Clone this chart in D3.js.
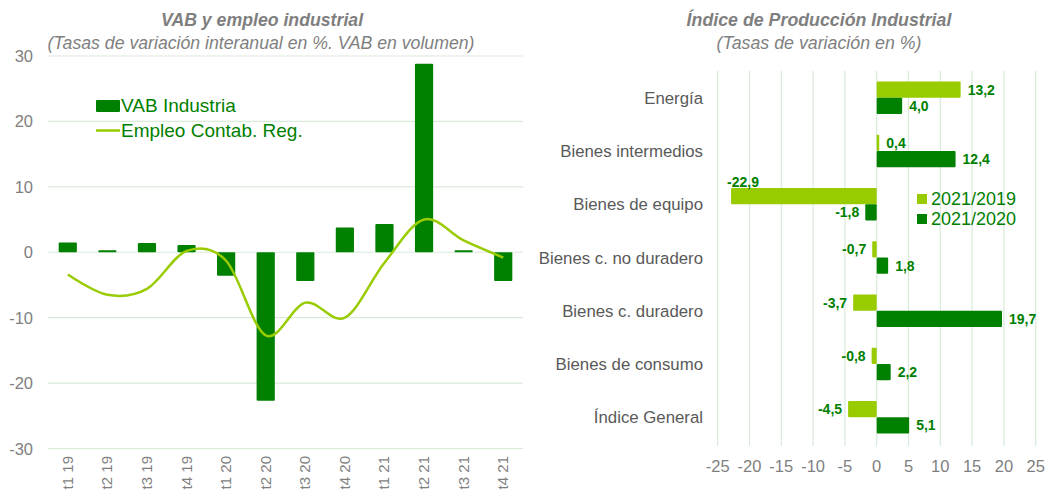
<!DOCTYPE html>
<html>
<head>
<meta charset="utf-8">
<script src="https://cdn.jsdelivr.net/npm/d3@7"></script>
<style>
  body { margin: 0; background: #fff; }
  svg { font-family: "Liberation Sans", Arial, sans-serif; display: block; }
</style>
</head>
<body>
<svg id="chart" width="1046" height="490"></svg>
<script>
// Left chart data
const quarters = ['t1 19', 't2 19', 't3 19', 't4 19', 't1 20', 't2 20', 't3 20', 't4 20', 't1 21', 't2 21', 't3 21', 't4 21']
const vabIndustria = [1.5, 0.3, 1.4, 1.1, -3.6, -22.7, -4.4, 3.8, 4.3, 28.8, 0.3, -4.4]
const empleo = [-3.4, -6.5, -5.6, 0.2, -1.3, -12.7, -7.7, -10.0, -1.6, 5.0, 1.8, -0.8]
const leftTicks = [-30, -20, -10, 0, 10, 20, 30]

// Right chart data
const sectors = ['Energía', 'Bienes intermedios', 'Bienes de equipo', 'Bienes c. no duradero', 'Bienes c. duradero', 'Bienes de consumo', 'Índice General']
const ipi2019 = [13.2, 0.4, -22.9, -0.7, -3.7, -0.8, -4.5]
const ipi2020 = [4.0, 12.4, -1.8, 1.8, 19.7, 2.2, 5.1]
const rightTicks = [-25, -20, -15, -10, -5, 0, 5, 10, 15, 20, 25]

const darkGreen = '#008000'
const lightGreen = '#99cc00'
const gridColor = '#d9ead9'
const grayText = '#7f7f7f'
const fmt = v => v.toFixed(1).replace('.', ',')

const svg = d3.select('#chart')

// ---------- Left chart ----------
const left = svg.append('g')

left.append('text')
  .attr('x', 262).attr('y', 26)
  .attr('text-anchor', 'middle')
  .attr('font-size', 17.7).attr('font-weight', 'bold').attr('font-style', 'italic')
  .attr('fill', grayText)
  .text('VAB y empleo industrial')
left.append('text')
  .attr('x', 261).attr('y', 49)
  .attr('text-anchor', 'middle')
  .attr('font-size', 17.7).attr('font-style', 'italic')
  .attr('fill', grayText)
  .text('(Tasas de variación interanual en %. VAB en volumen)')

const x = d3.scaleBand().domain(quarters).range([48, 523])
const y = d3.scaleLinear().domain([-30, 30]).range([448.5, 56])

left.append('g')
  .selectAll('line')
  .data(leftTicks)
  .join('line')
  .attr('x1', 48).attr('x2', 523)
  .attr('y1', d => y(d)).attr('y2', d => y(d))
  .attr('stroke', gridColor).attr('stroke-width', 1.2)

left.append('g')
  .selectAll('text')
  .data(leftTicks)
  .join('text')
  .attr('x', 33).attr('y', d => y(d) + 6)
  .attr('text-anchor', 'end')
  .attr('font-size', 16.5)
  .attr('fill', grayText)
  .text(d => d)

const barW = x.step() * 0.46
left.append('g')
  .selectAll('rect')
  .data(quarters)
  .join('rect')
  .attr('x', d => x(d) + x.step() / 2 - barW / 2)
  .attr('width', barW)
  .attr('y', (d, i) => y(Math.max(0, vabIndustria[i])))
  .attr('height', (d, i) => Math.abs(y(vabIndustria[i]) - y(0)))
  .attr('rx', 1)
  .attr('fill', darkGreen)

const line = d3.line()
  .x((d, i) => x(quarters[i]) + x.step() / 2)
  .y(d => y(d))
  .curve(d3.curveCatmullRom.alpha(0))

left.append('path')
  .datum(empleo)
  .attr('d', line)
  .attr('fill', 'none')
  .attr('stroke', lightGreen)
  .attr('stroke-width', 2.5)

left.append('g')
  .selectAll('text')
  .data(quarters)
  .join('text')
  .attr('transform', d => `translate(${x(d) + x.step() / 2 + 5},456) rotate(-90)`)
  .attr('text-anchor', 'end')
  .attr('font-size', 15)
  .attr('fill', grayText)
  .text(d => d)

// legend left
left.append('rect')
  .attr('x', 96).attr('y', 100).attr('width', 24).attr('height', 12)
  .attr('rx', 1).attr('fill', darkGreen)
left.append('text')
  .attr('x', 121).attr('y', 112)
  .attr('font-size', 19).attr('fill', darkGreen)
  .text('VAB Industria')
left.append('line')
  .attr('x1', 96).attr('x2', 120).attr('y1', 130.5).attr('y2', 130.5)
  .attr('stroke', lightGreen).attr('stroke-width', 2.5)
left.append('text')
  .attr('x', 121).attr('y', 137)
  .attr('font-size', 19).attr('fill', darkGreen)
  .text('Empleo Contab. Reg.')

// ---------- Right chart ----------
const right = svg.append('g')

right.append('text')
  .attr('x', 819).attr('y', 26)
  .attr('text-anchor', 'middle')
  .attr('font-size', 17.8).attr('font-weight', 'bold').attr('font-style', 'italic')
  .attr('fill', grayText)
  .text('Índice de Producción Industrial')
right.append('text')
  .attr('x', 819).attr('y', 49)
  .attr('text-anchor', 'middle')
  .attr('font-size', 17.8).attr('font-style', 'italic')
  .attr('fill', grayText)
  .text('(Tasas de variación en %)')

const xr = d3.scaleLinear().domain([-25, 25]).range([717.7, 1035.7])
const yr = d3.scaleBand().domain(sectors).range([71, 444])
const groupH = yr.step() * 0.61
const bh = groupH / 2

right.append('g')
  .selectAll('line')
  .data(rightTicks)
  .join('line')
  .attr('x1', d => xr(d)).attr('x2', d => xr(d))
  .attr('y1', 71).attr('y2', 446)
  .attr('stroke', gridColor).attr('stroke-width', 1.2)

right.append('g')
  .selectAll('text')
  .data(rightTicks)
  .join('text')
  .attr('x', d => xr(d)).attr('y', 472)
  .attr('text-anchor', 'middle')
  .attr('font-size', 16.5)
  .attr('fill', grayText)
  .text(d => d)

right.append('g')
  .selectAll('text')
  .data(sectors)
  .join('text')
  .attr('x', 703).attr('y', d => yr(d) + yr.step() / 2 + 6)
  .attr('text-anchor', 'end')
  .attr('font-size', 16.8)
  .attr('fill', '#595959')
  .text(d => d)

const series = [
  { values: ipi2019, color: lightGreen, offset: 0 },
  { values: ipi2020, color: darkGreen, offset: 1 }
]

series.forEach(s => {
  const g = right.append('g')
  const top = (d, i) => yr(sectors[i]) + yr.step() / 2 - groupH / 2 + s.offset * bh
  const clipped = d => xr(d) - 40 < xr.range()[0]
  g.selectAll('rect')
    .data(s.values)
    .join('rect')
    .attr('x', d => xr(Math.min(0, d)))
    .attr('width', d => Math.abs(xr(d) - xr(0)))
    .attr('y', top)
    .attr('height', bh)
    .attr('rx', 1)
    .attr('fill', s.color)

  g.selectAll('text')
    .data(s.values)
    .join('text')
    .attr('x', d => {
      if (clipped(d)) return xr(d) - 4
      return d < 0 ? xr(d) - 6 : xr(d) + 7
    })
    .attr('y', (d, i) => clipped(d) ? top(d, i) - 1 : top(d, i) + bh / 2 + 5)
    .attr('text-anchor', d => clipped(d) ? 'start' : (d < 0 ? 'end' : 'start'))
    .attr('font-size', 14).attr('font-weight', 'bold')
    .attr('fill', darkGreen)
    .text(d => fmt(d))
})

// legend right
const legendR = [
  { label: '2021/2019', color: lightGreen },
  { label: '2021/2020', color: darkGreen }
]
right.append('g')
  .selectAll('g')
  .data(legendR)
  .join('g')
  .attr('transform', (d, i) => `translate(917,${194 + i * 20})`)
  .call(g => g.append('rect').attr('width', 10).attr('height', 10).attr('fill', d => d.color))
  .call(g => g.append('text').attr('x', 14).attr('y', 11)
    .attr('font-size', 18).attr('fill', darkGreen).text(d => d.label))
</script>
</body>
</html>
